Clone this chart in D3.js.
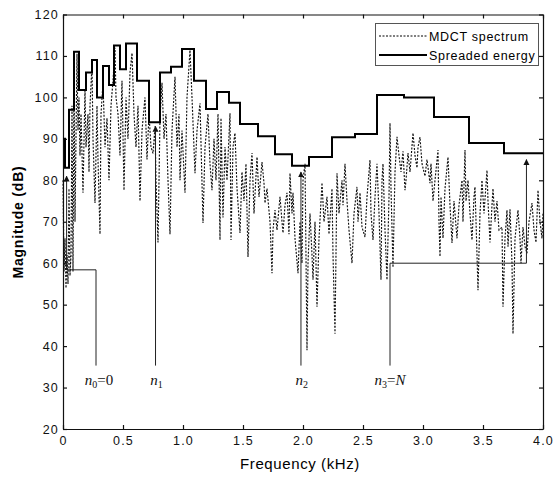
<!DOCTYPE html>
<html>
<head>
<meta charset="utf-8">
<script src="https://cdn.jsdelivr.net/npm/d3@7"></script>
<style>
    body { margin: 0; background: #fff; }
    .tick text { font-family: Arial, "Liberation Sans", sans-serif; font-size: 12.5px; letter-spacing: 1.2px; fill: #111; }
    .tick line, .domain { stroke: #111; }
    .anno-label { font-family: "Liberation Serif", "Times New Roman", serif; font-size: 15px; fill: #111; }
</style>
</head>
<body>
<svg id="chart" width="556" height="479"></svg>
<script>
// MDCT spectrum: bin index (480 bins over 0-4 kHz) and magnitude in dB
const specBin = [0,1,2,3,4,5,6,7,8,9,10,11,12,14,15,16,17,18,20,22,23,25,26,27,29,30,32,34,35,37,38,40,42,44,46,48,50,52,53,55,57,59,61,63,65,67,69,71,73,75,77,79,82,84,86,88,90,92,93,95,97,99,101,103,105,107,109,112,114,116,117,119,122,124,127,129,132,134,137,140,142,145,147,149,151,153,155,157,158,160,162,164,167,168,170,172,174,177,179,181,183,185,187,189,191,194,196,199,201,202,204,207,209,210,212,214,217,219,220,222,224,226,227,229,230,232,235,237,239,240,242,244,245,247,249,250,252,254,256,259,261,264,266,269,270,272,274,276,279,280,282,284,286,289,291,294,295,297,299,302,304,307,308,310,312,314,316,318,319,320,322,324,326,327,328,330,332,334,336,338,340,342,343,345,347,350,352,354,355,357,359,362,364,367,368,370,372,375,376,377,378,380,382,385,387,389,391,394,396,399,400,402,403,405,407,409,411,412,414,415,417,419,421,424,425,427,429,430,432,434,436,439,440,442,444,445,447,449,450,452,455,457,458,460,462,464,466,469,471,473,475,477,479,480];
const specDb = [80,58,66,54,62,55,78,57,62,98,58,106,70,110.5,92,100,86,96,77,102,88,96,82,98,108,90,74.5,98,85,67,96,103.5,88,95,80,98,104,112,100,96,86,104,77.6,100,90,106,110.7,96,88,98,75,92,100,85,96,88,86.5,93,80,65,95,103.5,90,96,80,67,92,105,88,96,80,92,77,100,111.4,100,81.7,92,98.6,69.7,88,96,84,77.6,90,80,96,65.6,95,71,88,80,96.2,65.6,88,91.4,78,67.3,82,75,84,61.5,80,86.6,72,85.6,76,84.4,79.3,74.5,78,70,57.6,68,72.8,68,76,70,67.3,74,77,67,81.7,72,77,66,57.6,70,60,80,84,39,60,72,62,56,70,49.5,66,79.4,70,76,67,78,62,43,81.7,72,80,74,84,75,68,60,72,78.4,70,77,68.7,66.3,76,84.9,72,65.6,76,84,72,56,80,84,68,56,76,93.8,78,59,82,90.5,86,82,87,77.6,80,86.6,82,91.4,86,83,88,90.4,84,81,85,79.3,84,75,80,87.3,70,61.6,76,66,78,85.6,74,64.9,75,66,74,80,70,87.3,75,80,72,65.6,76,78.4,62,53.5,72,80,72,82.4,75,65,74,78,70,75,68,68.7,49.5,66,72.8,64,73,60,43,66,72.8,66,60,68.7,64,62.4,70,74.5,68,65,77.6,70,66,72];

// spreaded energy: band edges (bins) and level of each band (dB)
const bandEdges = [0,2,6,11,16,23,29,34,40,46,51,57,63,74,86,97,108,119,131,143,154,166,177,195,212,229,246,269,292,314,341,371,406,441,480];
const bandDb = [90,83,97,111,101.8,106,109,100,107.6,103,112.5,106.8,113,104,94,106,107.4,111.7,104,97.2,101.3,98.7,93.6,90.6,86.3,83.5,85.6,90.4,91.2,100.6,100,95.3,89,86.5];

// band split annotations: paths in (kHz, dB), arrow at the end
const splitPaths = [
    [[0.275, 35.3], [0.275, 58.4], [0.03, 58.4], [0.03, 81]],
    [[0.771, 35.3], [0.771, 93]],
    [[1.983, 35.3], [1.983, 82]],
    [[2.725, 35.3], [2.725, 60], [3.862, 60], [3.862, 85]]
];
const splitLabels = [
    { f: 0.30, sub: "0", rest: "=0" },
    { f: 0.78, sub: "1", rest: "" },
    { f: 1.99, sub: "2", rest: "" },
    { f: 2.725, sub: "3", rest: "=N" }
];

const xTicks = [0, 0.5, 1.0, 1.5, 2.0, 2.5, 3.0, 3.5, 4.0];
const yTicks = [20, 30, 40, 50, 60, 70, 80, 90, 100, 110, 120];
const binsPerKHz = 120;

const svg = d3.select("#chart");
const margin = { top: 14.5, right: 13, bottom: 50, left: 63 };
const width = 556, height = 479;

const x = d3.scaleLinear().domain([0, 4]).range([margin.left, width - margin.right]);
const y = d3.scaleLinear().domain([20, 120]).range([height - margin.bottom, margin.top]);

// arrow head marker
svg.append("defs").append("marker")
    .attr("id", "arrow")
    .attr("viewBox", "0 0 10 10")
    .attr("refX", 9).attr("refY", 5)
    .attr("markerWidth", 6).attr("markerHeight", 8)
    .attr("markerUnits", "userSpaceOnUse")
    .attr("orient", "auto")
    .append("path")
    .attr("d", "M0,0 L10,5 L0,10 Z")
    .attr("fill", "#111");

// axes (matlab style: ticks inside, mirrored on top/right)
const fmtX = d => d === 0 ? "0" : d3.format(".1f")(d);
svg.append("g")
    .attr("transform", `translate(0,${y(20)})`)
    .call(d3.axisBottom(x).tickValues(xTicks).tickFormat(fmtX).tickSize(-4).tickPadding(7).tickSizeOuter(0));
svg.append("g")
    .attr("transform", `translate(0,${y(120)})`)
    .call(d3.axisTop(x).tickValues(xTicks).tickFormat("").tickSize(-4).tickSizeOuter(0));
svg.append("g")
    .attr("transform", `translate(${x(0)},0)`)
    .call(d3.axisLeft(y).tickValues(yTicks).tickSize(-4).tickPadding(4).tickSizeOuter(0));
svg.append("g")
    .attr("transform", `translate(${x(4)},0)`)
    .call(d3.axisRight(y).tickValues(yTicks).tickFormat("").tickSize(-4).tickSizeOuter(0));
svg.selectAll(".tick line, .domain").attr("stroke-width", 1.2);

// axis titles
svg.append("text")
    .attr("x", 300).attr("y", 469)
    .attr("text-anchor", "middle")
    .style("font-family", "Arial, 'Liberation Sans', sans-serif")
    .style("font-size", "15px").style("letter-spacing", "0.6px")
    .text("Frequency (kHz)");
svg.append("text")
    .attr("transform", "translate(23,222) rotate(-90)")
    .attr("text-anchor", "middle")
    .style("font-family", "Arial, 'Liberation Sans', sans-serif")
    .style("font-size", "14px").style("font-weight", "bold").style("letter-spacing", "0.8px")
    .text("Magnitude (dB)");

// MDCT spectrum (dotted)
const spec = specBin.map((b, i) => [b / binsPerKHz, specDb[i]]);
svg.append("path")
    .datum(spec)
    .attr("fill", "none")
    .attr("stroke", "#111")
    .attr("stroke-width", 1.15)
    .attr("stroke-dasharray", "2,1.5")
    .attr("d", d3.line().x(d => x(d[0])).y(d => y(d[1])));

// spreaded energy (solid steps)
const bands = bandDb.map((v, i) => [bandEdges[i] / binsPerKHz, v]);
bands.push([bandEdges[bandEdges.length - 1] / binsPerKHz, bandDb[bandDb.length - 1]]);
svg.append("path")
    .datum(bands)
    .attr("fill", "none")
    .attr("stroke", "#000")
    .attr("stroke-width", 2)
    .attr("d", d3.line().curve(d3.curveStepAfter).x(d => x(d[0])).y(d => y(d[1])));

// split annotations
svg.selectAll(".split")
    .data(splitPaths)
    .join("path")
    .attr("class", "split")
    .attr("fill", "none")
    .attr("stroke", "#222")
    .attr("stroke-width", 1)
    .attr("marker-end", "url(#arrow)")
    .attr("d", d3.line().x(d => x(d[0])).y(d => y(d[1])));

const labels = svg.selectAll(".anno-label")
    .data(splitLabels)
    .join("text")
    .attr("class", "anno-label")
    .attr("x", d => x(d.f))
    .attr("y", y(30.7))
    .attr("text-anchor", "middle");
labels.append("tspan").style("font-style", "italic").text("n");
labels.append("tspan").attr("dy", 3).style("font-size", "10px").text(d => d.sub);
labels.append("tspan").attr("dy", -3)
    .each(function(d) {
        if (!d.rest) return;
        d3.select(this).append("tspan").text("=");
        if (d.rest.slice(1) === "N") d3.select(this).append("tspan").style("font-style", "italic").text("N");
        else d3.select(this).append("tspan").text(d.rest.slice(1));
    });

// legend
const legend = svg.append("g");
legend.append("rect")
    .attr("x", 375.5).attr("y", 23.5).attr("width", 163).attr("height", 42)
    .attr("fill", "#fff").attr("stroke", "#555").attr("stroke-width", 1);
const legendItems = [
    { label: "MDCT spectrum", dash: "2,1.5", w: 1 },
    { label: "Spreaded energy", dash: null, w: 2 }
];
legendItems.forEach((d, i) => {
    const ly = 36 + i * 19;
    legend.append("line")
        .attr("x1", 379).attr("x2", 427).attr("y1", ly).attr("y2", ly)
        .attr("stroke", "#000").attr("stroke-width", d.w)
        .attr("stroke-dasharray", d.dash);
    legend.append("text")
        .attr("x", 429).attr("y", ly + 4.5)
        .style("font-family", "Arial, 'Liberation Sans', sans-serif")
        .style("font-size", "12.5px").style("letter-spacing", "0.7px")
        .text(d.label);
});
</script>
</body>
</html>
